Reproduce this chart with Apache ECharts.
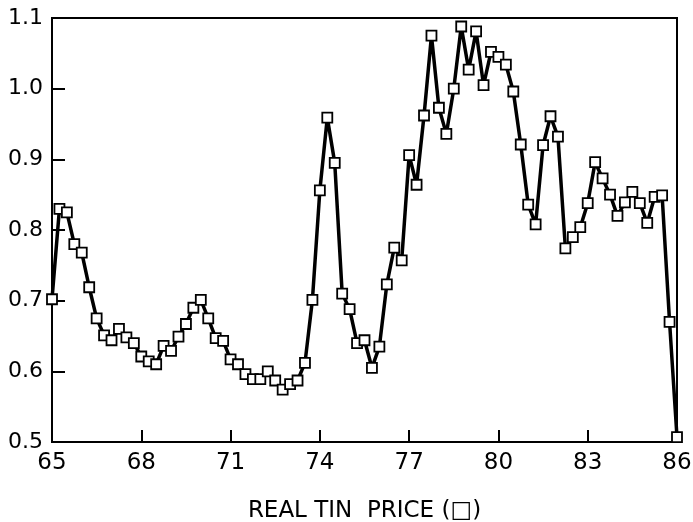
<!DOCTYPE html>
<html>
<head>
<meta charset="utf-8">
<script src="https://cdn.jsdelivr.net/npm/echarts@6/dist/echarts.min.js"></script>
<style>
html,body{margin:0;padding:0;background:#fff;}
#chart{width:693px;height:522px;}
</style>
</head>
<body>
<div id="chart"></div>
<script>
var quarters = [
  65.00,65.25,65.50,65.75,66.00,66.25,66.50,66.75,67.00,67.25,67.50,67.75,
  68.00,68.25,68.50,68.75,69.00,69.25,69.50,69.75,70.00,70.25,70.50,70.75,
  71.00,71.25,71.50,71.75,72.00,72.25,72.50,72.75,73.00,73.25,73.50,73.75,
  74.00,74.25,74.50,74.75,75.00,75.25,75.50,75.75,76.00,76.25,76.50,76.75,
  77.00,77.25,77.50,77.75,78.00,78.25,78.50,78.75,79.00,79.25,79.50,79.75,
  80.00,80.25,80.50,80.75,81.00,81.25,81.50,81.75,82.00,82.25,82.50,82.75,
  83.00,83.25,83.50,83.75,84.00,84.25,84.50,84.75,85.00,85.25,85.50,85.75,
  86.00
];
var tinPrice = [
  0.702,0.830,0.825,0.780,0.768,0.719,0.675,0.651,0.644,0.660,0.648,0.640,
  0.621,0.614,0.610,0.636,0.629,0.649,0.667,0.690,0.701,0.675,0.647,0.643,
  0.617,0.610,0.596,0.589,0.589,0.600,0.587,0.574,0.582,0.587,0.612,0.701,
  0.856,0.959,0.895,0.710,0.688,0.640,0.644,0.605,0.635,0.723,0.775,0.757,
  0.906,0.864,0.962,1.075,0.973,0.936,1.000,1.088,1.027,1.081,1.005,1.052,
  1.045,1.034,0.996,0.921,0.836,0.808,0.920,0.961,0.932,0.774,0.790,0.804,
  0.838,0.896,0.873,0.850,0.820,0.839,0.854,0.838,0.810,0.847,0.849,0.670,
  0.507
];
var xTicks = [65,68,71,74,77,80,83,86];
var yTicks = [0.5,0.6,0.7,0.8,0.9,1.0,1.1];
var xTitle = 'REAL TIN  PRICE (\u25A1)';

var pts = quarters.map(function(q,i){return [q, tinPrice[i]];});
var chart = echarts.init(document.getElementById('chart'), null, {renderer:'canvas'});
chart.setOption({
  animation:false,
  backgroundColor:'#fff',
  grid:{left:52,right:16,top:18,bottom:80,containLabel:false,outerBoundsMode:'none',
    show:true,borderColor:'#000',borderWidth:2,backgroundColor:'transparent'},
  xAxis:{
    type:'value',min:65,max:86,
    name:xTitle,nameLocation:'middle',nameGap:58,
    nameTextStyle:{fontFamily:'DejaVu Sans',fontSize:23,color:'#000'},
    axisLine:{show:true,onZero:false,lineStyle:{color:'#000',width:2}},
    axisTick:{show:true,inside:true,length:12,lineStyle:{color:'#000',width:2},customValues:xTicks},
    axisLabel:{color:'#000',fontFamily:'DejaVu Sans',fontSize:23,margin:10,customValues:xTicks,
      formatter:function(v){return String(v);}},
    splitLine:{show:false}
  },
  yAxis:{
    type:'value',min:0.5,max:1.1,
    axisLine:{show:true,onZero:false,lineStyle:{color:'#000',width:2}},
    axisTick:{show:true,inside:true,length:13,lineStyle:{color:'#000',width:2},customValues:yTicks},
    axisLabel:{color:'#000',fontFamily:'DejaVu Sans',fontSize:22,margin:9,customValues:yTicks,
      formatter:function(v){return v.toFixed(1);}},
    splitLine:{show:false}
  },
  series:[{
    type:'line',
    data:pts,
    symbol:'rect',
    symbolSize:10,
    showAllSymbol:true,
    clip:false,
    lineStyle:{color:'#000',width:3.5},
    itemStyle:{color:'#fff',borderColor:'#000',borderWidth:1.8}
  }]
});
</script>
</body>
</html>
